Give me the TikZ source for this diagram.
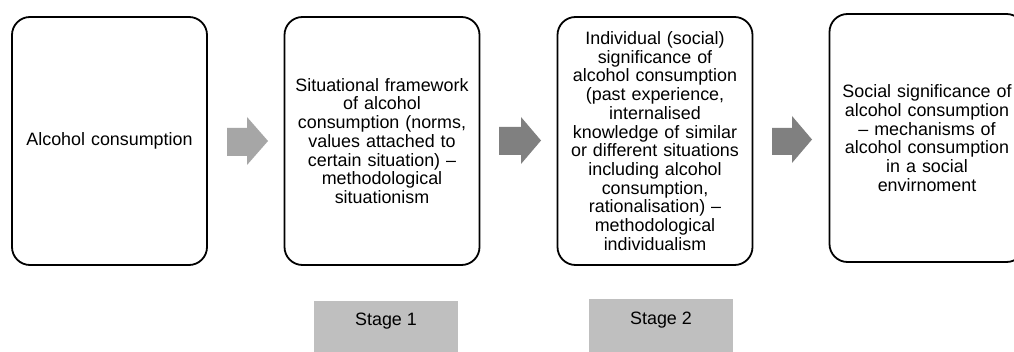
\documentclass[tikz,border=0pt]{standalone}
\usepackage{fontspec}
\setmainfont{Liberation Sans}
\definecolor{arrowlight}{HTML}{A6A6A6}
\definecolor{arrowdark}{HTML}{808080}
\definecolor{stagefill}{HTML}{BFBFBF}
\definecolor{txt}{HTML}{000000}
\begin{document}
\begin{tikzpicture}[x=1pt,y=-1pt,
  mainbox/.style={draw=black, line width=1.8pt, rounded corners=18pt, minimum width=195pt, minimum height=248pt, inner sep=0pt, text width=186pt, align=center, font=\fontsize{17.9}{18.7}\selectfont, text=txt},
  stagebox/.style={fill=stagefill, draw=none, minimum width=144pt, minimum height=60pt, inner sep=0pt},
  stagetext/.style={font=\fontsize{17.9}{18.7}\selectfont, text=txt, inner sep=0pt},
  blockarrow/.style={draw=none}
]
\useasboundingbox (0,0) rectangle (1014,352);
\clip (0,0) rectangle (1014,352);
\fill[white] (0,0) rectangle (1014,352);

\node[mainbox] (b1) at (109.5,141) {Alcohol consumption};
\node[mainbox] (b2) at (382,141) {Situational framework\\ of alcohol\\ consumption (norms,\\ values attached to\\ certain situation) --\\ methodological\\ situationism};
\node[mainbox] (b3) at (655,141) {Individual (social)\\ significance of\\ alcohol consumption\\ (past experience,\\ internalised\\ knowledge of similar\\ or different situations\\ including alcohol\\ consumption,\\ rationalisation) --\\ methodological\\ individualism};
\node[mainbox] (b4) at (927,138) {Social significance of\\ alcohol consumption\\ -- mechanisms of\\ alcohol consumption\\ in a social\\ envirnoment};

% block arrows
\fill[blockarrow, arrowlight] (227,128) -- (247,128) -- (247,117) -- (268,141) -- (247,165) -- (247,156) -- (227,156) -- cycle;
\fill[blockarrow, arrowdark] (499,127) -- (521,127) -- (521,117) -- (541,140.5) -- (521,164) -- (521,155) -- (499,155) -- cycle;
\fill[blockarrow, arrowdark] (772,128) -- (792,128) -- (792,116) -- (812,139.5) -- (792,163) -- (792,155) -- (772,155) -- cycle;

\node[stagebox] (s1) at (386,331) {};
\node[stagetext] (s1t) at (386,321.5) {Stage 1};
\node[stagebox] (s2) at (661,329) {};
\node[stagetext] (s2t) at (661,320) {Stage 2};
\end{tikzpicture}
\end{document}
